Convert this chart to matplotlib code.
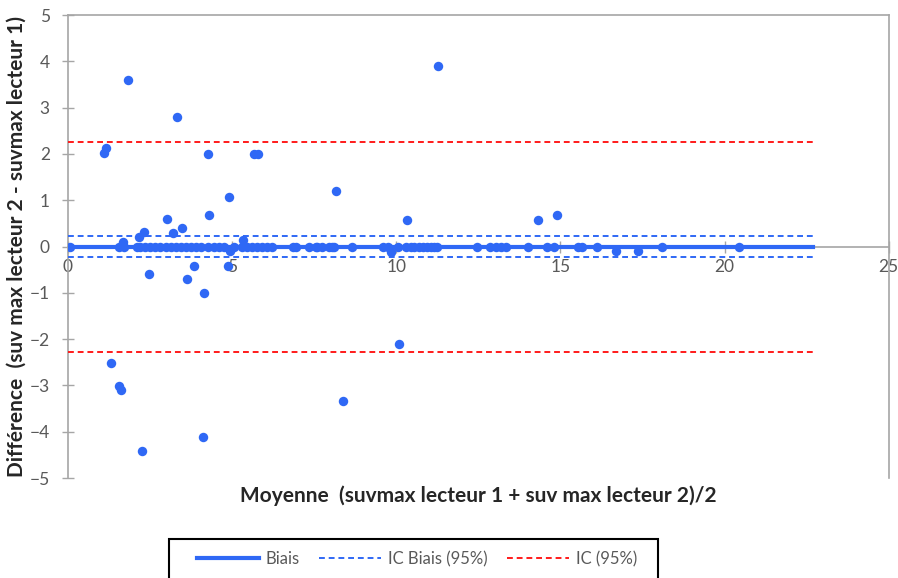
import matplotlib
matplotlib.use("Agg")
import matplotlib.pyplot as plt
from matplotlib.lines import Line2D
from matplotlib.patches import Rectangle

# ---- data ----
# points away from the zero line
out_x = [1.1, 1.16, 1.83, 3.32, 4.27, 5.67, 5.8, 11.28, 8.15, 4.9, 4.3, 3.02,
         3.2, 3.48, 2.32, 2.16, 1.68, 5.33, 10.34, 14.33, 14.88,
         2.47, 3.84, 3.63, 4.15, 4.88, 4.95, 9.85, 16.7, 17.35,
         1.3, 1.56, 1.62, 2.25, 4.1, 8.38, 10.09]
out_y = [2.03, 2.12, 3.6, 2.79, 2.0, 2.0, 2.0, 3.9, 1.19, 1.08, 0.67, 0.6,
         0.3, 0.39, 0.32, 0.2, 0.1, 0.13, 0.58, 0.58, 0.69,
         -0.6, -0.43, -0.71, -1.0, -0.43, -0.1, -0.12, -0.09, -0.09,
         -2.52, -3.02, -3.1, -4.42, -4.12, -3.33, -2.1]
# points sitting on the zero line (difference = 0)
zero_x = [0.05, 1.55, 1.7, 2.1, 2.2, 2.35, 2.5, 2.65, 2.8, 3.0, 3.15, 3.3, 3.45,
          3.6, 3.75, 3.9, 4.05, 4.25, 4.45, 4.6, 4.75, 5.05, 5.3, 5.45, 5.6,
          5.75, 5.9, 6.05, 6.2, 6.85, 6.95, 7.35, 7.55, 7.6, 7.75, 7.95, 8.05,
          8.1, 8.65, 9.6, 9.75, 10.05, 10.3, 10.45, 10.55, 10.7, 10.8, 10.95,
          11.05, 11.15, 11.25, 12.45, 12.85, 13.05, 13.2, 13.35, 14.0, 14.6,
          14.8, 15.55, 15.65, 16.1, 18.1, 20.45]

biais = 0.0
ic_biais = (-0.23, 0.22)
ic = (-2.27, 2.25)
x_line = (0, 22.7)

xticks = [0, 5, 10, 15, 20, 25]
yticks = [-5, -4, -3, -2, -1, 0, 1, 2, 3, 4, 5]

BLUE = "#2F68F5"
RED = "#FF1A1A"
GREY = "#A6A6A6"
TXT = "#595959"

plt.rcParams["font.family"] = ["Lato", "DejaVu Sans"]

fig = plt.figure(figsize=(8.98, 5.78), dpi=100)
ax = fig.add_axes([0.0757, 0.173, 0.914, 0.801])

all_x = out_x + zero_x
all_y = out_y + [0.0] * len(zero_x)
ax.plot(x_line, [biais, biais], color=BLUE, lw=3, zorder=3)
for v in ic_biais:
    ax.plot(x_line, [v, v], color=BLUE, lw=1.4, ls=(0, (3, 2)), zorder=3)
for v in ic:
    ax.plot(x_line, [v, v], color=RED, lw=1.4, ls=(0, (3, 2)), zorder=3)
ax.plot(all_x, all_y, "o", color=BLUE, ms=6.8, mec="none", zorder=4)

ax.set_xlim(0, 25)
ax.set_ylim(-5, 5)
ax.set_xticks(xticks)
ax.set_yticks(yticks)

ax.spines["bottom"].set_position(("data", 0))
for s in ax.spines.values():
    s.set_color(GREY)
    s.set_linewidth(1.2)
ax.tick_params(direction="inout", length=8, width=1, color=GREY,
               labelcolor=TXT, labelsize=12.5)
ax.tick_params(axis="x", pad=5)
ax.tick_params(axis="y", pad=9)

fig.text(0.533, 0.142, "Moyenne  (suvmax lecteur 1 + suv max lecteur 2)/2",
         ha="center", va="center", fontsize=15, fontweight="bold", color="#262626")
fig.text(0.019, 0.573, "Différence  (suv max lecteur 2 - suvmax lecteur 1)",
         ha="center", va="center", rotation=90, fontsize=15,
         fontweight="bold", color="#262626")

# legend box runs off the bottom edge, as in the source image
fig.patches.append(Rectangle((0.188, -0.05), 0.545, 0.1175, transform=fig.transFigure,
                             fill=False, edgecolor="black", linewidth=1.5))
handles = [Line2D([], [], color=BLUE, lw=3),
           Line2D([], [], color=BLUE, lw=1.4, ls=(0, (3, 2))),
           Line2D([], [], color=RED, lw=1.4, ls=(0, (3, 2)))]
leg = fig.legend(handles, ["Biais", "IC Biais (95%)", "IC (95%)"],
                 loc="center left", bbox_to_anchor=(0.2194, 0.033, 0.49, 0.0),
                 mode="expand", ncol=3, fontsize=12, frameon=False,
                 handlelength=3.7, handletextpad=0.4,
                 borderpad=0, borderaxespad=0, columnspacing=1.5)
for t in leg.get_texts():
    t.set_color(TXT)

fig.savefig("out.png", dpi=100)
